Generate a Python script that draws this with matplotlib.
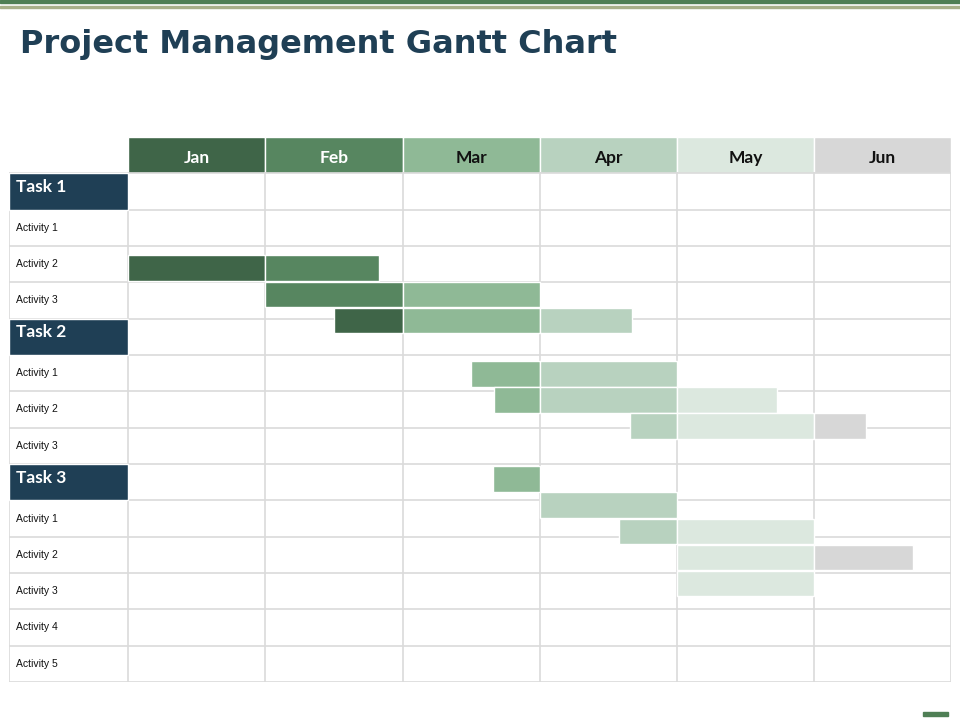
import matplotlib.pyplot as plt
from matplotlib.patches import Rectangle

# Table content
months = ['Jan', 'Feb', 'Mar', 'Apr', 'May', 'Jun']
month_colors = ['#3f6548', '#578660', '#8fb996', '#b8d2bf', '#dce8df', '#d7d7d7']
month_text = ['white', 'white', '#111111', '#111111', '#111111', '#111111']
row_labels = ['Task 1', 'Activity 1', 'Activity 2', 'Activity 3',
              'Task 2', 'Activity 1', 'Activity 2', 'Activity 3',
              'Task 3', 'Activity 1', 'Activity 2', 'Activity 3', 'Activity 4', 'Activity 5']
task_rows = [0, 4, 8]

# Bars: top position (in rows), and segments (start month, end month, shade index)
bar_tops = [2.25, 2.98, 3.70, 5.17, 5.89, 6.61, 8.06, 8.78, 9.50, 10.22, 10.94]
bar_segments = [
    [(0.0, 1.0, 0), (1.0, 1.83, 1)],
    [(1.0, 2.0, 1), (2.0, 3.0, 2)],
    [(1.5, 2.0, 0), (2.0, 3.0, 2), (3.0, 3.67, 3)],
    [(2.5, 3.0, 2), (3.0, 4.0, 3)],
    [(2.67, 3.0, 2), (3.0, 4.0, 3), (4.0, 4.73, 4)],
    [(3.66, 4.0, 3), (4.0, 5.0, 4), (5.0, 5.38, 5)],
    [(2.66, 3.0, 2)],
    [(3.0, 4.0, 3)],
    [(3.58, 4.0, 3), (4.0, 5.0, 4)],
    [(4.0, 5.0, 4), (5.0, 5.72, 5)],
    [(4.0, 5.0, 4)],
]
bar_height = 0.70

navy = '#1f3f55'
grid = '#dadada'
label_w = 0.87  # width of the label column, in months

fig = plt.figure(figsize=(9.6, 7.2), dpi=100)

# top decoration lines and title
fig.add_artist(Rectangle((0, 1 - 3 / 720), 1, 3 / 720, color='#4f7f55', transform=fig.transFigure))
fig.add_artist(Rectangle((0, 1 - 8 / 720), 1, 2.5 / 720, color='#a8b08a', transform=fig.transFigure))
fig.text(20 / 960, 1 - 53 / 720, 'Project Management Gantt Chart', fontsize=23,
         fontweight='bold', color=navy, family='DejaVu Sans', va='baseline', ha='left')
fig.add_artist(Rectangle((923 / 960, 1 - 716 / 720), 25 / 960, 4 / 720,
                         color='#4f7f55', transform=fig.transFigure))

ax = fig.add_axes([9 / 960, 1 - 682 / 720, 942 / 960, 545 / 720])
n = len(row_labels)
ax.set_xlim(-label_w, len(months))
ax.set_ylim(n, -1)
ax.axis('off')

# header
for i, m in enumerate(months):
    ax.add_patch(Rectangle((i, -1), 1, 1, facecolor=month_colors[i],
                           edgecolor='white', linewidth=1))
    ax.text(i + 0.5, -0.42, m, ha='center', va='center', fontsize=12.5,
            fontweight='bold', color=month_text[i], family='Lato')

# grid lines
for r in range(n + 1):
    ax.plot([-label_w, len(months)], [r, r], color=grid, lw=1.2, zorder=1)
for c in range(len(months) + 1):
    ax.plot([c, c], [0, n], color=grid, lw=1.2, zorder=1)
ax.plot([-label_w, -label_w], [0, n], color=grid, lw=1.2, zorder=1)

# row labels
for r, lab in enumerate(row_labels):
    if r in task_rows:
        ax.add_patch(Rectangle((-label_w, r), label_w, 1, facecolor=navy,
                               edgecolor='white', linewidth=1, zorder=2))
        ax.text(-label_w + 0.05, r + 0.38, lab, ha='left', va='center', fontsize=12.5,
                fontweight='bold', color='white', family='Lato', zorder=3)
    else:
        ax.text(-label_w + 0.05, r + 0.5, lab, ha='left', va='center', fontsize=7.5,
                color='#111111', family='Liberation Sans', zorder=3)

# bars
for top, segs in zip(bar_tops, bar_segments):
    for start, end, shade in segs:
        ax.add_patch(Rectangle((start, top), end - start, bar_height,
                               facecolor=month_colors[shade], edgecolor='white',
                               linewidth=1, zorder=4))

fig.savefig('out.png', dpi=100)
